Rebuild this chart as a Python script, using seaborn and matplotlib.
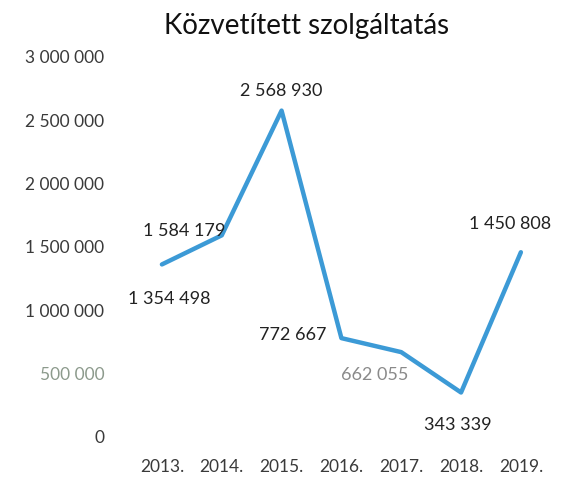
import matplotlib
matplotlib.use("Agg")
import matplotlib.pyplot as plt
import seaborn as sns
import pandas as pd
from matplotlib.ticker import FuncFormatter

# --- data ---
years = ["2013.", "2014.", "2015.", "2016.", "2017.", "2018.", "2019."]
values = [1354498, 1584179, 2568930, 772667, 662055, 343339, 1450808]

# label offsets (points) relative to each data point
label_offsets = [(5, -24), (-27, 4), (0, 15), (-35, 3), (-19, -16), (-2, -23), (-8, 21)]
label_colors = ["#222222", "#222222", "#222222", "#222222", "#8a8a8a", "#222222", "#222222"]

sns.set_theme(style="white")
plt.rcParams["font.family"] = ["Lato", "DejaVu Sans"]

df = pd.DataFrame({"year": years, "value": values})

fig = plt.figure(figsize=(5.69, 4.81), dpi=100)
ax = fig.add_axes([0.232, 0.0915, 0.736, 0.79])

sns.lineplot(data=df, x="year", y="value", ax=ax, color="#3c9ad6", linewidth=3.2, sort=False)

ax.set_ylim(0, 3000000)
ax.set_yticks(range(0, 3000001, 500000))
ax.yaxis.set_major_formatter(FuncFormatter(lambda v, p: f"{int(v):,}".replace(",", " ")))
ax.set_xlim(-0.5, len(years) - 0.5)
ax.set_xlabel("")
ax.set_ylabel("")
ax.tick_params(axis="y", labelsize=12.5, labelcolor="#3a3a3a", pad=20, length=0)
ax.tick_params(axis="x", labelsize=12.5, labelcolor="#3a3a3a", pad=16, length=0)
for lbl in ax.get_yticklabels():
    if lbl.get_text() == "500 000":
        lbl.set_color("#8c9a8c")
sns.despine(ax=ax, left=True, bottom=True)

for i, (v, off, c) in enumerate(zip(values, label_offsets, label_colors)):
    ax.annotate(f"{v:,}".replace(",", " "), (i, v), xytext=off, textcoords="offset points",
                ha="center", va="center", fontsize=13, color=c)

fig.text(0.538, 0.945, "Közvetített szolgáltatás", ha="center", va="center", fontsize=20, color="#111111")

fig.savefig("out.png", dpi=100)
